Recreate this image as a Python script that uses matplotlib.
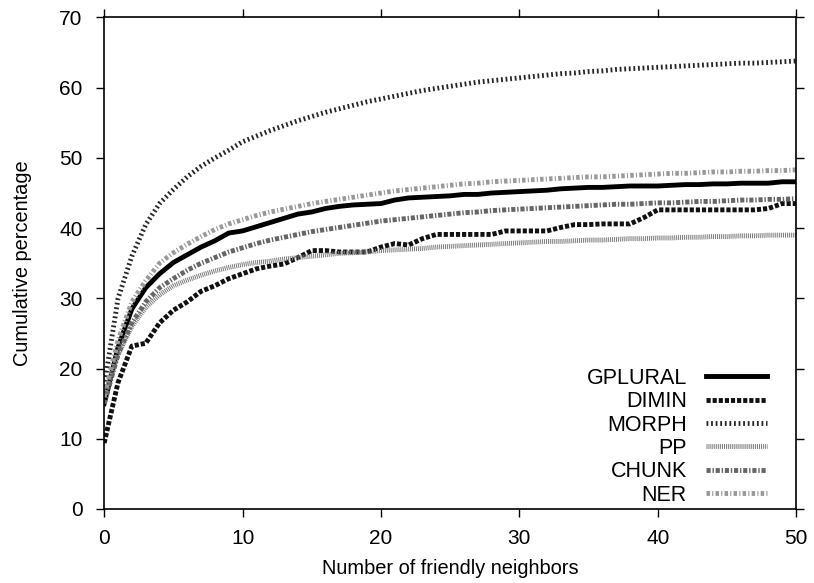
import matplotlib
matplotlib.use('Agg')
import matplotlib.pyplot as plt

plt.rcParams['font.family'] = ['Liberation Sans', 'DejaVu Sans']
plt.rcParams['lines.scale_dashes'] = False

# number of friendly neighbors
neighbors = list(range(51))

gplural = [15.0, 23.0, 28.5, 31.5, 33.5, 35.1, 36.2, 37.3, 38.2, 39.3,
           39.6, 40.2, 40.8, 41.4, 42.0, 42.3, 42.8, 43.1, 43.3, 43.4,
           43.5, 44.0, 44.3, 44.4, 44.5, 44.6, 44.8, 44.8, 45.0, 45.1,
           45.2, 45.3, 45.4, 45.6, 45.7, 45.8, 45.8, 45.9, 46.0, 46.0,
           46.0, 46.1, 46.2, 46.2, 46.3, 46.3, 46.4, 46.4, 46.4, 46.6, 46.6]

dimin = [9.4, 18.0, 23.2, 23.6, 26.5, 28.3, 29.5, 31.0, 31.8, 32.8,
         33.5, 34.2, 34.6, 34.9, 35.8, 36.8, 36.8, 36.6, 36.6, 36.6,
         37.3, 37.8, 37.6, 38.5, 39.1, 39.1, 39.1, 39.1, 39.1, 39.6,
         39.6, 39.6, 39.6, 40.1, 40.5, 40.5, 40.6, 40.6, 40.6, 41.5,
         42.6, 42.6, 42.6, 42.6, 42.6, 42.6, 42.6, 42.6, 42.8, 43.5, 43.5]

morph = [17.5, 30.0, 36.0, 40.5, 43.5, 45.5, 47.3, 48.8, 50.0, 51.1,
         52.3, 53.1, 53.9, 54.6, 55.3, 55.9, 56.5, 57.0, 57.5, 58.0,
         58.4, 58.8, 59.2, 59.6, 59.9, 60.2, 60.5, 60.8, 61.0, 61.2,
         61.4, 61.6, 61.8, 62.0, 62.1, 62.3, 62.4, 62.6, 62.7, 62.8,
         62.9, 63.0, 63.1, 63.2, 63.3, 63.4, 63.5, 63.5, 63.6, 63.7, 63.8]

pp = [16.0, 22.0, 26.0, 28.7, 30.5, 31.8, 32.6, 33.3, 33.9, 34.4,
      34.8, 35.1, 35.3, 35.6, 35.8, 36.0, 36.2, 36.4, 36.5, 36.6,
      36.8, 36.9, 37.0, 37.1, 37.3, 37.4, 37.5, 37.6, 37.7, 37.8,
      37.9, 38.0, 38.1, 38.1, 38.2, 38.3, 38.3, 38.4, 38.5, 38.5,
      38.6, 38.6, 38.7, 38.7, 38.8, 38.8, 38.9, 38.9, 39.0, 39.0, 39.0]

chunk = [15.0, 22.0, 26.5, 29.5, 31.5, 32.8, 34.0, 35.0, 35.8, 36.6,
         37.2, 37.8, 38.3, 38.7, 39.1, 39.5, 39.8, 40.1, 40.4, 40.7,
         41.0, 41.2, 41.4, 41.6, 41.8, 42.0, 42.2, 42.3, 42.5, 42.6,
         42.7, 42.8, 42.9, 43.0, 43.1, 43.2, 43.3, 43.4, 43.4, 43.5,
         43.6, 43.6, 43.7, 43.8, 43.8, 43.9, 44.0, 44.0, 44.1, 44.1, 44.2]

ner = [16.0, 24.0, 29.5, 32.5, 35.0, 36.5, 37.7, 38.8, 39.8, 40.6,
       41.2, 41.8, 42.3, 42.7, 43.1, 43.5, 43.8, 44.1, 44.4, 44.7,
       45.0, 45.3, 45.5, 45.7, 45.9, 46.1, 46.3, 46.4, 46.6, 46.7,
       46.8, 46.9, 47.0, 47.1, 47.2, 47.3, 47.3, 47.4, 47.5, 47.6,
       47.7, 47.8, 47.8, 47.9, 48.0, 48.0, 48.1, 48.1, 48.2, 48.2, 48.3]

fig = plt.figure(figsize=(8.14, 5.83), dpi=100)
ax = fig.add_axes([0.128, 0.127, 0.850, 0.843])

lw = 3.5
ax.plot(neighbors, gplural, color='black', lw=lw, label='GPLURAL')
ax.plot(neighbors, dimin, color='#111111', lw=lw, dashes=(3.0, 1.4), label='DIMIN')
ax.plot(neighbors, morph, color='#262626', lw=lw, dashes=(1.3, 2.0), label='MORPH')
ax.plot(neighbors, pp, color='#7a7a7a', lw=lw, dashes=(0.7, 0.7), label='PP')
ax.plot(neighbors, chunk, color='#666666', lw=lw, dashes=(3.0, 1.3, 1.0, 1.3), label='CHUNK')
ax.plot(neighbors, ner, color='#999999', lw=lw, dashes=(2.5, 1.6, 0.8, 1.6), label='NER')

ax.set_xlim(0, 50)
ax.set_ylim(0, 70)
ax.set_xticks(range(0, 51, 10))
ax.set_yticks(range(0, 71, 10))
ax.tick_params(direction='out', length=5.5, width=1, labelsize=15,
               top=True, right=True)
ax.tick_params(axis='x', pad=9)
ax.tick_params(axis='y', pad=10)
for sp in ax.spines.values():
    sp.set_linewidth(1.2)

ax.set_xlabel('Number of friendly neighbors', fontsize=14.4, labelpad=8)
ax.set_ylabel('Cumulative percentage', fontsize=14.4, labelpad=20)

ax.legend(loc='lower right', bbox_to_anchor=(0.98, -0.024), frameon=False,
          markerfirst=False, fontsize=15.5, handlelength=2.85, handletextpad=0.88,
          labelspacing=0.11, borderaxespad=0.3)

fig.savefig('out.png', dpi=100)
